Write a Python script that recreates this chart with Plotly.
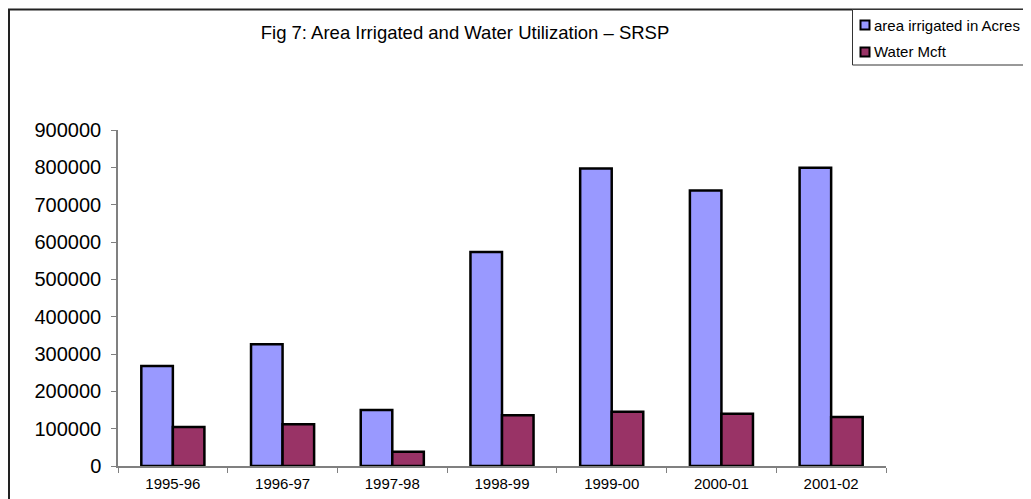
import plotly.graph_objects as go

years = ["1995-96", "1996-97", "1997-98", "1998-99", "1999-00", "2000-01", "2001-02"]
area_acres = [268000, 326000, 150000, 573000, 797000, 738000, 799000]
water_mcft = [104500, 111500, 38500, 136000, 145500, 140000, 131500]

series_names = ["area irrigated in Acres", "Water Mcft"]
series_colors = ["#9999FF", "#993366"]

FONT = "Liberation Sans, Arial, sans-serif"

fig = go.Figure()
for name, vals, color in zip(series_names, [area_acres, water_mcft], series_colors):
    fig.add_bar(
        x=years,
        y=vals,
        name=name,
        marker=dict(color=color, line=dict(color="#000000", width=2.5)),
        showlegend=False,
    )

# the page body has an 8px margin, so the figure itself is 8px smaller
W, H = 1023, 491
# plot area in figure pixels
L, R, T, B = 110, 878, 122, 458


def px_x(v):
    return (v - L) / (R - L)


def px_y(v):
    return (B - v) / (B - T)


# outer chart frame (runs off the right and bottom edges)
fig.add_shape(
    type="rect",
    xref="paper", yref="paper",
    x0=px_x(1), x1=px_x(1040), y0=px_y(510), y1=px_y(1.5),
    line=dict(color="#222222", width=2),
    layer="below",
)

# legend box, drawn by hand so that it sits like the original (cut at the right edge)
fig.add_shape(
    type="rect",
    xref="paper", yref="paper",
    x0=px_x(844.5), x1=px_x(1040), y0=px_y(57), y1=px_y(1.5),
    line=dict(color="#333333", width=1),
    fillcolor="white",
)
for i, (name, color) in enumerate(zip(series_names, series_colors)):
    cy = 17 + 27 * i
    fig.add_shape(
        type="rect",
        xref="paper", yref="paper",
        x0=px_x(852.5), x1=px_x(861.5), y0=px_y(cy + 4.5), y1=px_y(cy - 4.5),
        line=dict(color="#000000", width=2),
        fillcolor=color,
    )
    fig.add_annotation(
        xref="paper", yref="paper",
        x=px_x(864), y=px_y(cy),
        xanchor="left", yanchor="middle",
        text=name,
        showarrow=False,
        font=dict(size=15, family=FONT, color="#000000"),
    )

fig.update_layout(
    width=W,
    height=H,
    barmode="group",
    bargap=0.425,
    bargroupgap=0,
    showlegend=False,
    plot_bgcolor="white",
    paper_bgcolor="white",
    font=dict(family=FONT, color="#000000"),
    title=dict(
        text="Fig 7: Area Irrigated and Water Utilization – SRSP",
        x=px_x(457), xref="paper", xanchor="center",
        y=1 - 25 / H, yanchor="middle",
        font=dict(size=18.5, family=FONT, color="#000000"),
    ),
    margin=dict(l=L, r=W - R, t=T, b=H - B, autoexpand=False),
    xaxis=dict(
        type="category",
        showline=True,
        linecolor="#808080",
        linewidth=1.5,
        ticks="outside",
        tickson="boundaries",
        ticklen=5,
        tickcolor="#808080",
        tickfont=dict(size=15),
        ticklabelstandoff=3,
        showgrid=False,
    ),
    yaxis=dict(
        range=[0, 900000],
        dtick=100000,
        tickformat="d",
        showline=True,
        linecolor="#808080",
        linewidth=1.5,
        ticks="outside",
        ticklen=5,
        tickcolor="#808080",
        tickfont=dict(size=20),
        ticklabelstandoff=6,
        showgrid=False,
        zeroline=False,
    ),
)

fig.write_html("out.html")
